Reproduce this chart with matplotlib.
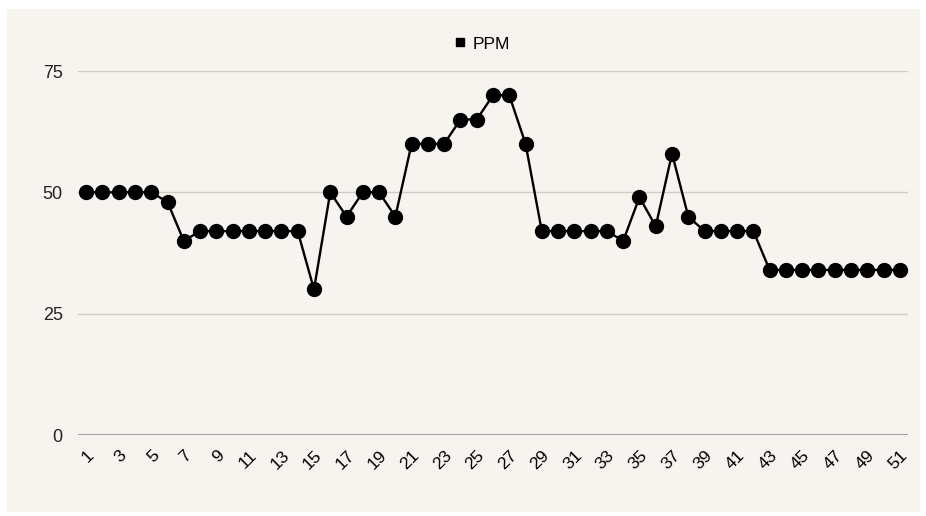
import numpy as np
import matplotlib.pyplot as plt
from matplotlib.patches import Rectangle

plt.rcParams['font.family'] = ['Liberation Sans', 'DejaVu Sans']

days = list(range(1, 52))
ppm = [50, 50, 50, 50, 50, 48, 40, 42, 42, 42,
       42, 42, 42, 42, 30, 50, 45, 50, 50, 45,
       60, 60, 60, 65, 65, 70, 70, 60, 42, 42,
       42, 42, 42, 40, 49, 43, 58, 45, 42, 42,
       42, 42, 34, 34, 34, 34, 34, 34, 34, 34,
       34]
yticks = [0, 25, 50, 75]

bg = '#f7f3ef'
fig = plt.figure(figsize=(9.26, 5.16), dpi=100, facecolor='white')
# panel background
fig.patches.append(Rectangle((7 / 926, 1 - 512 / 516), 913 / 926, 503 / 516,
                             transform=fig.transFigure, facecolor=bg,
                             edgecolor='none', zorder=-10))

ax = fig.add_axes([78 / 926, 1 - 435 / 516, 830 / 926, 364 / 516])
ax.set_facecolor(bg)

ax.plot(days, ppm, color='black', lw=1.7, marker='o', ms=10,
        markeredgecolor='black', zorder=3)

ax.set_xlim(0.5, 51.5)
ax.set_ylim(0, 75)
ax.set_yticks(yticks)
ax.set_xticks(days[::2])
ax.set_xticklabels([str(d) for d in days[::2]], rotation=45,
                   ha='right', va='top', rotation_mode='anchor', fontsize=12.5)
ax.tick_params(axis='x', length=0, pad=9)
ax.tick_params(axis='y', length=0, pad=11, labelsize=13, labelcolor='#222222')

for v in yticks[1:]:
    ax.axhline(v, color='#cfcbc7', lw=1, zorder=1)
ax.axhline(0, color='#8a8784', lw=1.8, zorder=2)

for s in ax.spines.values():
    s.set_visible(False)

fig.legend(['PPM'], loc='center', bbox_to_anchor=(483 / 926, 1 - 44 / 516),
           frameon=False, fontsize=12.5, handlelength=0.5, handletextpad=0.5)
h = fig.legends[0].legend_handles[0]
h.set_linestyle('none')
h.set_marker('s')
h.set_markersize(6)

fig.savefig('out.png', dpi=100, facecolor='white')
